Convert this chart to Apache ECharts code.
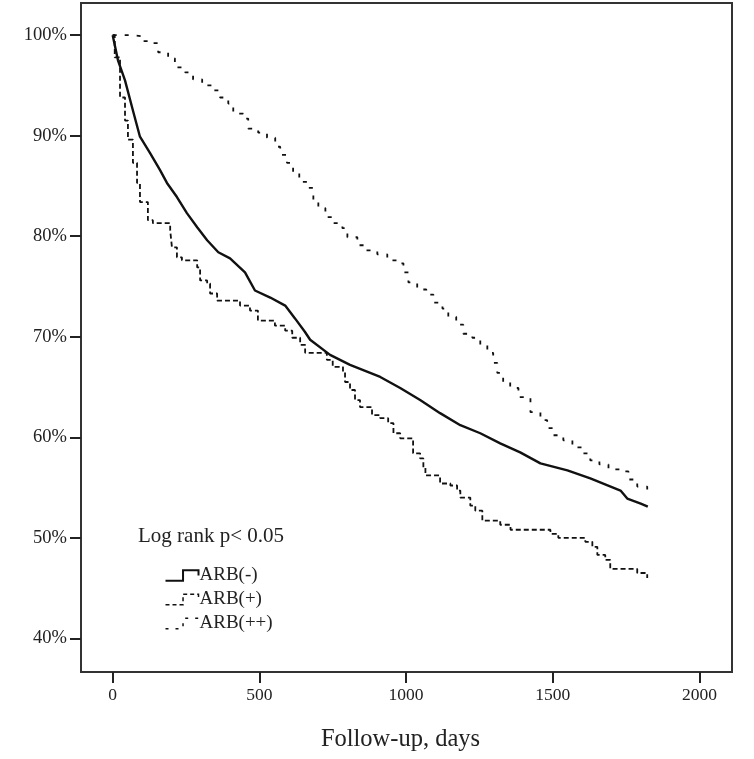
<!DOCTYPE html>
<html>
<head>
<meta charset="utf-8">
<title>Survival by ARB</title>
<script src="https://cdn.jsdelivr.net/npm/echarts@6/dist/echarts.min.js"></script>
<style>
  html, body { margin: 0; padding: 0; background: #fff; }
  #chart { width: 754px; height: 759px; }
</style>
</head>
<body>
<div id="chart"></div>
<script>
const xTicks = [0, 500, 1000, 1500, 2000]
const yTicks = [40, 50, 60, 70, 80, 90, 100]

const seriesNames = ['ARB(-)', 'ARB(+)', 'ARB(++)']

// ARB(-)
const daysNone = [0, 18, 42, 69, 93, 127, 161, 185, 219, 253, 288, 322, 360, 400, 451, 485, 537, 588, 622, 655, 673,
  741, 809, 912, 980, 1048, 1116, 1185, 1253, 1321, 1389, 1458, 1550, 1628, 1731, 1754, 1800, 1824]
const survNone = [100, 97.5, 95.5, 92.5, 89.9, 88.3, 86.6, 85.3, 83.9, 82.3, 80.9, 79.6, 78.4, 77.8, 76.4, 74.6, 73.9, 73.1, 71.8, 70.5, 69.7,
  68.2, 67.2, 66.0, 64.9, 63.7, 62.4, 61.2, 60.4, 59.4, 58.5, 57.4, 56.7, 55.9, 54.7, 53.9, 53.4, 53.1]

// ARB(+)
const daysPlus = [0, 7, 25, 42, 52, 69, 83, 93, 120, 137, 196, 202, 219, 236, 288, 298, 322, 332, 356, 434, 468, 495,
  553, 588, 612, 639, 656, 730, 750, 785, 792, 809, 826, 843, 884, 912, 939, 957, 980, 1024, 1048, 1059, 1066,
  1116, 1151, 1174, 1185, 1219, 1236, 1260, 1321, 1356, 1492, 1519, 1611, 1635, 1652, 1679, 1696, 1788, 1822]
const survPlus = [100, 97.8, 93.8, 91.5, 89.6, 87.3, 85.3, 83.4, 81.6, 81.3, 80.6, 78.9, 77.9, 77.6, 76.9, 75.6, 75.3, 74.3, 73.6, 73.1, 72.6, 71.6,
  71.1, 70.6, 69.9, 69.2, 68.4, 67.7, 67.0, 66.5, 65.5, 64.7, 63.7, 63.0, 62.2, 61.9, 61.4, 60.4, 59.9, 58.4, 57.9, 57.0, 56.2,
  55.4, 55.2, 54.7, 54.0, 53.2, 52.7, 51.7, 51.3, 50.8, 50.4, 50.0, 49.6, 49.1, 48.3, 47.8, 46.9, 46.5, 46.0]

// ARB(++)
const daysPlusPlus = [0, 59, 100, 134, 155, 189, 212, 247, 274, 305, 339, 366, 394, 411, 445, 462, 496, 526, 554, 571,
  594, 615, 636, 663, 684, 701, 725, 752, 783, 800, 834, 861, 902, 936, 970, 991, 1008, 1038, 1069, 1093, 1124,
  1144, 1171, 1195, 1226, 1253, 1277, 1297, 1311, 1331, 1355, 1383, 1424, 1458, 1481, 1502, 1536, 1567, 1601,
  1628, 1659, 1690, 1737, 1758, 1788, 1822]
const survPlusPlus = [100, 99.9, 99.4, 99.2, 98.3, 97.7, 96.8, 96.3, 95.6, 95.0, 94.5, 93.8, 93.2, 92.2, 91.7, 90.7, 90.3, 89.8, 88.9, 88.1,
  87.3, 86.3, 85.4, 84.8, 83.6, 82.8, 81.9, 81.3, 80.8, 79.9, 79.1, 78.6, 78.2, 77.6, 77.3, 76.4, 75.4, 74.7, 74.2, 73.4, 72.8,
  72.0, 71.2, 70.3, 69.9, 69.2, 68.4, 67.4, 66.4, 65.5, 64.9, 64.0, 62.5, 61.7, 60.9, 60.2, 59.7, 59.0, 58.4,
  57.7, 57.3, 56.8, 56.6, 55.8, 55.1, 54.7]

const pairs = (xs, ys) => xs.map((x, i) => [x, ys[i]])

const chart = echarts.init(document.getElementById('chart'))
const font = 'Liberation Serif'
const stepIcon = 'path://M0,10L17,10L17,0L32,0L32,5'

const option = {
  animation: false,
  backgroundColor: '#fff',
  textStyle: { fontFamily: font, color: '#222' },
  grid: {
    left: 81,
    right: 22,
    top: 3,
    bottom: 87,
    show: true,
    borderColor: '#333',
    borderWidth: 2
  },
  title: {
    text: 'Log rank p< 0.05',
    left: 133,
    top: 521,
    textStyle: { fontFamily: font, fontSize: 21, fontWeight: 'normal', color: '#222' }
  },
  legend: {
    orient: 'vertical',
    left: 158,
    top: 561,
    itemWidth: 33,
    itemHeight: 11,
    itemGap: 5,
    textStyle: { fontFamily: font, fontSize: 19, color: '#222', padding: [0, 0, 0, -4] },
    data: [
      { name: seriesNames[0], icon: stepIcon, itemStyle: { color: 'none', borderColor: '#111', borderWidth: 2 } },
      { name: seriesNames[1], icon: stepIcon, itemStyle: { color: 'none', borderColor: '#111', borderWidth: 1.5, borderType: [4, 3] } },
      { name: seriesNames[2], icon: stepIcon, itemStyle: { color: 'none', borderColor: '#111', borderWidth: 1.5, borderType: [3, 7] } }
    ]
  },
  xAxis: {
    type: 'value',
    min: -108,
    max: 2111,
    name: 'Follow-up, days',
    nameLocation: 'middle',
    nameGap: 55,
    nameTextStyle: { fontFamily: font, fontSize: 24.5, color: '#222', padding: [0, 12, 0, 0] },
    splitLine: { show: false },
    axisLine: { onZero: false, lineStyle: { color: '#333', width: 2 } },
    axisTick: { customValues: xTicks, length: 11, lineStyle: { color: '#222', width: 2 } },
    axisLabel: { customValues: xTicks, margin: 14, fontFamily: font, fontSize: 17.5, color: '#222', formatter: v => String(v) }
  },
  yAxis: {
    type: 'value',
    min: 36.65,
    max: 103.2,
    splitLine: { show: false },
    axisLine: { show: true, onZero: false, lineStyle: { color: '#333', width: 2 } },
    axisTick: { show: true, customValues: yTicks, length: 11, lineStyle: { color: '#222', width: 2 } },
    axisLabel: { customValues: yTicks, margin: 14, fontFamily: font, fontSize: 18.5, color: '#222', formatter: v => v + '%' }
  },
  series: [
    {
      name: seriesNames[0],
      type: 'line',
      showSymbol: false,
      data: pairs(daysNone, survNone),
      lineStyle: { color: '#111', width: 2.4 },
      itemStyle: { color: '#111' }
    },
    {
      name: seriesNames[1],
      type: 'line',
      step: 'end',
      showSymbol: false,
      data: pairs(daysPlus, survPlus),
      lineStyle: { color: '#111', width: 1.8, type: [5, 3] },
      itemStyle: { color: '#111' }
    },
    {
      name: seriesNames[2],
      type: 'line',
      step: 'end',
      showSymbol: false,
      data: pairs(daysPlusPlus, survPlusPlus),
      lineStyle: { color: '#111', width: 1.8, type: [4, 8] },
      itemStyle: { color: '#111' }
    }
  ]
}

chart.setOption(option)
</script>
</body>
</html>
